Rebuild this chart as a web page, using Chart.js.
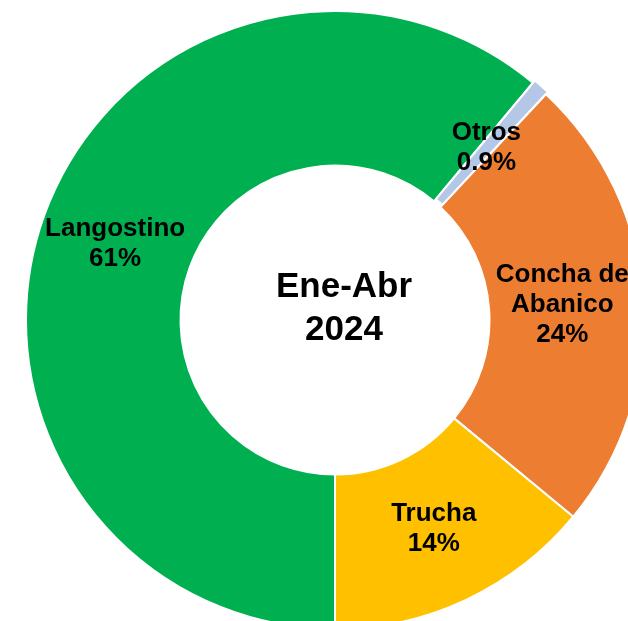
<!DOCTYPE html>
<html>
<head>
<meta charset="utf-8">
<script src="https://cdn.jsdelivr.net/npm/chart.js@4"></script>
<style>
  html, body { margin: 0; padding: 0; background: #fff; }
  #wrap { position: relative; width: 628px; height: 621px; overflow: hidden; }
  #box { position: absolute; left: 22px; top: 7px; width: 626px; height: 626px; }
</style>
</head>
<body>
<div id="wrap">
  <div id="box"><canvas id="pie"></canvas></div>
</div>
<script>
// data
const labels = ['Langostino', 'Otros', 'Concha de Abanico', 'Trucha'];
const shares = [61, 0.9, 24, 14];
const labelLines = [['Langostino', '61%'], ['Otros', '0.9%'], ['Concha de', 'Abanico', '24%'], ['Trucha', '14%']];
const colors = ['#00B050', '#B4C7E7', '#ED7D31', '#FFC000'];
const centerLines = ['Ene-Abr', '2024'];

const FONT = '"Liberation Sans", Arial, sans-serif';
// small nudges so text sits where the original has it
const nudge = [[-2, 3], [-4, 4], [-4, 0], [0, -1]];

const sliceLabels = {
  id: 'sliceLabels',
  afterDatasetsDraw(chart) {
    const ctx = chart.ctx;
    const meta = chart.getDatasetMeta(0);
    ctx.save();
    ctx.fillStyle = '#000';
    ctx.textAlign = 'center';
    ctx.textBaseline = 'middle';
    ctx.font = 'bold 26px ' + FONT;
    meta.data.forEach((arc, i) => {
      const p = arc.tooltipPosition();
      const lines = labelLines[i];
      const lh = 30;
      const x = p.x + nudge[i][0];
      const y0 = p.y + nudge[i][1] - (lines.length - 1) * lh / 2;
      lines.forEach((t, k) => ctx.fillText(t, x, y0 + k * lh));
    });
    // centre title
    const cx = (chart.chartArea.left + chart.chartArea.right) / 2;
    const cy = (chart.chartArea.top + chart.chartArea.bottom) / 2;
    ctx.font = 'bold 35px ' + FONT;
    ctx.fillText(centerLines[0], cx + 9, cy - 33);
    ctx.fillText(centerLines[1], cx + 9, cy + 10);
    ctx.restore();
  }
};

new Chart(document.getElementById('pie').getContext('2d'), {
  type: 'doughnut',
  data: {
    labels: labels,
    datasets: [{
      data: shares,
      backgroundColor: colors,
      borderColor: '#ffffff',
      borderWidth: 2,
      offset: [0, 6, 0, 0]
    }]
  },
  options: {
    responsive: true,
    maintainAspectRatio: false,
    animation: false,
    rotation: 180,
    cutout: '50%',
    layout: { padding: 0 },
    plugins: {
      legend: { display: false },
      tooltip: { enabled: false }
    }
  },
  plugins: [sliceLabels]
});
</script>
</body>
</html>
